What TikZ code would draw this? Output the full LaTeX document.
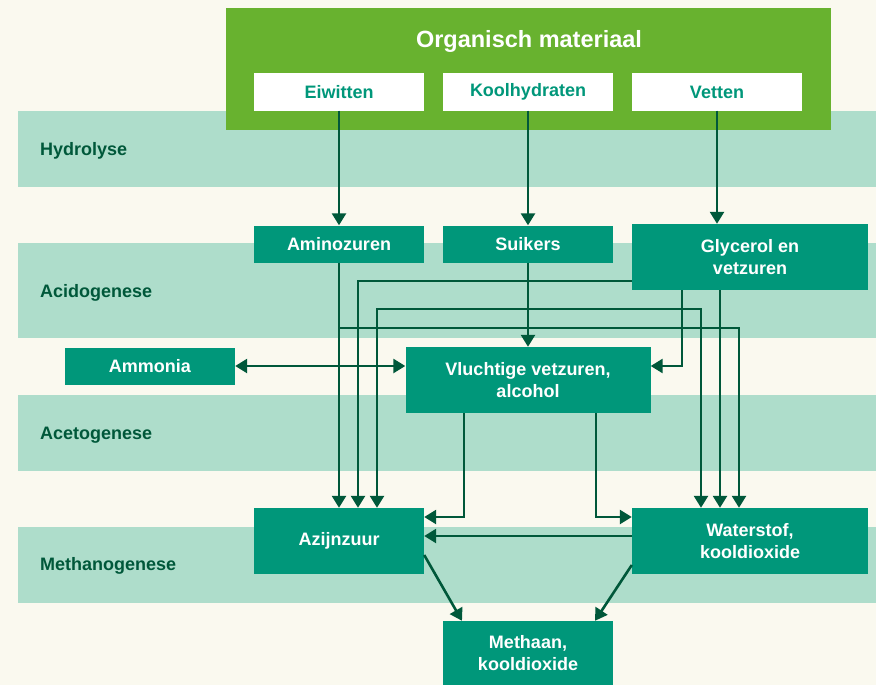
\documentclass[tikz,border=0pt]{standalone}
\usepackage{fontspec}
\setmainfont{Liberation Sans}
\usetikzlibrary{arrows.meta}
\definecolor{cream}{HTML}{FAF9EF}
\definecolor{bandgreen}{HTML}{AEDDCB}
\definecolor{leafgreen}{HTML}{68B22F}
\definecolor{stagegreen}{HTML}{00977A}
\definecolor{linegreen}{HTML}{00583A}
\begin{document}
\begin{tikzpicture}[x=1pt, y=-1pt,
    band/.style ={fill=bandgreen},
    phase/.style ={anchor=west, inner sep=0pt, text=linegreen, font=\bfseries\fontsize{18}{22}\selectfont},
    stage/.style ={rectangle, fill=stagegreen, text=white, inner sep=0pt,
      align=center, font=\bfseries\fontsize{18}{22}\selectfont,
      minimum width=170pt, minimum height=37pt},
    tall/.style ={stage, minimum height=66pt},
    wide/.style ={tall, minimum width=236pt},
    source/.style ={stage, fill=white, text=stagegreen},
    flow/.style ={draw=linegreen, line width=2.6pt,
      -{Triangle[length=12pt,width=14pt]}}]
   % background and phase bands
   \fill[cream] (0,0) rectangle (876,685);
   \useasboundingbox (0,0) rectangle (876,685);
   \fill[band] (18,111) rectangle (876,187);
   \fill[band] (18,243) rectangle (876,338);
   \fill[band] (18,395) rectangle (876,471);
   \fill[band] (18,527) rectangle (876,603);
   \node[phase] (hydrolyse)     at (40,151) {Hydrolyse};
   \node[phase] (acidogenese)   at (40,293) {Acidogenese};
   \node[phase] (acetogenese)   at (40,435) {Acetogenese};
   \node[phase] (methanogenese) at (40,566) {Methanogenese};

   % organic material
   \node[fill=leafgreen, minimum width=605pt, minimum height=122pt, inner sep=0pt]
      (organisch) at (528.5,69) {};
   \node[text=white, font=\bfseries\fontsize{23.5}{27}\selectfont] (titel) at (529,41)
      {Organisch materiaal};
   \node[source] (eiwitten)     at (339,92) {Eiwitten};
   \node[source] (koolhydraten) at (528,92) {Koolhydraten};
   \node[source] (vetten)       at (717,92) {Vetten};

   % stages
   \node[stage] (aminozuren) at (339,244) {Aminozuren};
   \node[stage] (suikers)    at (528,244) {Suikers};
   \node[wide]  (glycerol)   at (750,257)   {Glycerol en\\vetzuren};
   \node[stage] (ammonia)    at (150,366) {Ammonia};
   \node[tall, minimum width=245pt] (vluchtig) at (528,380) {Vluchtige vetzuren,\\alcohol};
   \node[tall]  (azijnzuur)  at (339,541)   {Azijnzuur};
   \node[wide]  (waterstof)  at (750,541)   {Waterstof,\\kooldioxide};
   \node[tall, minimum height=64pt] (methaan) at (528,653) {Methaan,\\kooldioxide};

   % hydrolyse
   \draw[flow] (eiwitten) -- (aminozuren);
   \draw[flow] (koolhydraten) -- (suikers);
   \draw[flow] (vetten.south) -- (vetten |- glycerol.north);

   % acidogenese
   \draw[flow] (aminozuren) -- (azijnzuur);
   \draw[flow] (aminozuren.south |- 0,328) -| ([xshift=-11pt]waterstof.north);
   \draw[flow] (suikers) -- (vluchtig);
   \draw[flow] (suikers.south |- 0,309) -| ([xshift=38pt]azijnzuur.north);
   \draw[flow] (suikers.south |- 0,309) -| ([xshift=-49pt]waterstof.north);
   \draw[flow] (glycerol.west |- 0,281) -| ([xshift=19pt]azijnzuur.north);
   \draw[flow] ([xshift=-68pt]glycerol.south) |- ([yshift=14pt]vluchtig.east);
   \draw[flow] ([xshift=-30pt]glycerol.south) -- ([xshift=-30pt]waterstof.north);
   \draw[flow, {Triangle[length=12pt,width=14pt]}-{Triangle[length=12pt,width=14pt]}]
      (ammonia.east) -- (ammonia.east -| vluchtig.west);

   % acetogenese
   \draw[flow] ([xshift=-64pt]vluchtig.south) |- ([yshift=24pt]azijnzuur.east);
   \draw[flow] ([xshift=68pt]vluchtig.south) |- ([yshift=24pt]waterstof.west);
   \draw[flow] ([yshift=5pt]waterstof.west) -- ([yshift=5pt]azijnzuur.east);

   % methanogenese
   \draw[flow] ([yshift=-14pt]azijnzuur.east) -- ([xshift=-66pt]methaan.north);
   \draw[flow] ([yshift=-24pt]waterstof.west) -- ([xshift=67pt]methaan.north);
 \end{tikzpicture}
\end{document}
